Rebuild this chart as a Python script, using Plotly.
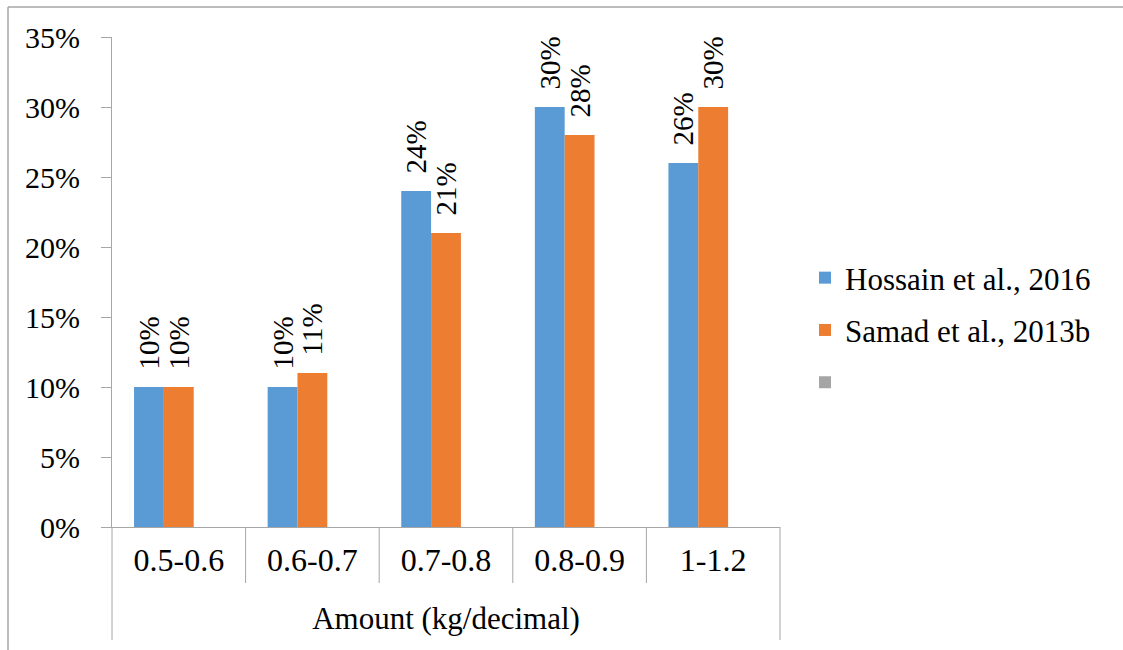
import plotly.graph_objects as go

# Application rate classes and share of respondents per study
categories = ["0.5-0.6", "0.6-0.7", "0.7-0.8", "0.8-0.9", "1-1.2"]
hossain_2016 = [10, 10, 24, 30, 26]
samad_2013b = [10, 11, 21, 28, 30]
third_series = [None, None, None, None, None]

y_ticks = [0, 5, 10, 15, 20, 25, 30, 35]
y_tick_text = [f"{v}%" for v in y_ticks]

FONT = "'Liberation Serif', 'Times New Roman', Times, serif"
GRID = "#A6A6A6"

W, H = 1123, 650
M_L, M_R, M_T, M_B = 112, 343, 37, 123
PW = W - M_L - M_R
PH = H - M_T - M_B


def px_x(p):
    return (p - M_L) / PW


def px_y(p):
    return (H - M_B - p) / PH


fig = go.Figure()

label_font = dict(family=FONT, size=29, color="black")

fig.add_trace(go.Bar(
    x=categories, y=hossain_2016, name="Hossain et al., 2016",
    marker=dict(color="#5B9BD5", line=dict(width=0)),
    text=[f"{v}%" for v in hossain_2016],
    texttemplate="\u00a0\u00a0%{text}", textposition="outside", textangle=-90,
    textfont=label_font, constraintext="none", cliponaxis=False,
    legendgroup="a",
))
fig.add_trace(go.Bar(
    x=categories, y=samad_2013b, name="Samad et al., 2013b",
    marker=dict(color="#ED7D31", line=dict(width=0)),
    text=[f"{v}%" for v in samad_2013b],
    texttemplate="\u00a0\u00a0%{text}", textposition="outside", textangle=-90,
    textfont=label_font, constraintext="none", cliponaxis=False,
    legendgroup="b",
))
fig.add_trace(go.Bar(
    x=categories, y=third_series, name=" ",
    marker=dict(color="#A5A5A5", line=dict(width=0)),
    legendgroup="c",
))

shapes = []
# category separators below the axis; outer ones span the group row too
n = len(categories)
for i in range(n + 1):
    bottom = 640 if i in (0, n) else 583
    shapes.append(dict(type="line", xref="paper", yref="paper",
                       x0=i / n, x1=i / n, y0=0, y1=px_y(bottom),
                       line=dict(color=GRID, width=1)))
# frame around the chart area (top and left edges)
shapes.append(dict(type="line", xref="paper", yref="paper",
                   x0=px_x(8), x1=px_x(W), y0=px_y(7), y1=px_y(7),
                   line=dict(color=GRID, width=1.5)))
shapes.append(dict(type="line", xref="paper", yref="paper",
                   x0=px_x(8), x1=px_x(8), y0=px_y(7), y1=px_y(H),
                   line=dict(color=GRID, width=1.5)))

fig.update_layout(
    width=W, height=H,
    margin=dict(l=M_L, r=M_R, t=M_T, b=M_B, autoexpand=False),
    paper_bgcolor="white", plot_bgcolor="white",
    barmode="group", bargap=0.33, bargroupgap=0,
    font=dict(family=FONT, size=31, color="black"),
    showlegend=True,
    legend=dict(
        x=px_x(805), xanchor="left", y=px_y(330), yanchor="middle",
        font=dict(family=FONT, size=31, color="black"),
        bgcolor="rgba(0,0,0,0)", traceorder="grouped", tracegroupgap=9,
    ),
    shapes=shapes,
    xaxis=dict(
        type="category", showline=True, linecolor=GRID, linewidth=1,
        ticks="", showgrid=False, ticklabelstandoff=5,
        tickfont=dict(family=FONT, size=32, color="black"),
        title=dict(text="Amount (kg/decimal)", standoff=29,
                   font=dict(family=FONT, size=31, color="black")),
        automargin=False,
    ),
    yaxis=dict(
        range=[0, 35], tickvals=y_ticks, ticktext=y_tick_text,
        showline=True, linecolor=GRID, linewidth=1,
        ticks="outside", ticklen=10, tickcolor=GRID, tickwidth=1,
        showgrid=False, zeroline=False, ticklabelstandoff=15,
        tickfont=dict(family=FONT, size=30, color="black"),
        automargin=False,
    ),
)

fig.write_html("out.html")
